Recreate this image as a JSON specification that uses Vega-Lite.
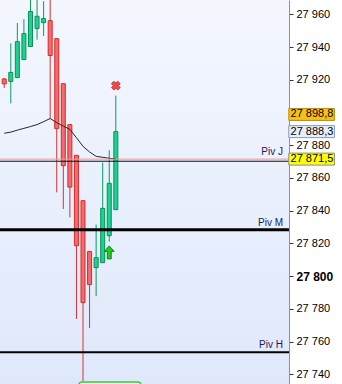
{
  "$schema": "https://vega.github.io/schema/vega-lite/v6.json",
  "width": 289,
  "height": 384,
  "autosize": {"type": "none"},
  "padding": {"left": 0, "top": 0, "right": 53, "bottom": 0},
  "background": "#ffffff",
  "config": {
    "locale": {"number": {"decimal": ",", "thousands": " ", "grouping": [3], "currency": ["", ""]}},
    "view": {
      "stroke": null,
      "fill": {"gradient": "linear", "x1": 0, "y1": 0, "x2": 0, "y2": 1, "stops": [{"offset": 0, "color": "#f4f7fe"}, {"offset": 1, "color": "#dfe8fb"}]}
    },
    "font": "Liberation Sans"
  },
  "datasets": {
    "candles": [
      {"i": 0, "o": 27920.5, "h": 27921.0, "l": 27915.0, "c": 27917.5, "ma": 27887.3},
      {"i": 1, "o": 27919.0, "h": 27942.3, "l": 27905.6, "c": 27924.5, "ma": 27888.0},
      {"i": 2, "o": 27921.3, "h": 27954.7, "l": 27921.3, "c": 27943.3, "ma": 27889.2},
      {"i": 3, "o": 27932.3, "h": 27957.0, "l": 27932.3, "c": 27948.2, "ma": 27890.3},
      {"i": 4, "o": 27940.3, "h": 27980.0, "l": 27940.3, "c": 27961.7, "ma": 27891.4},
      {"i": 5, "o": 27951.3, "h": 27980.0, "l": 27944.5, "c": 27958.8, "ma": 27892.6},
      {"i": 6, "o": 27954.9, "h": 27968.0, "l": 27946.7, "c": 27957.4, "ma": 27894.4},
      {"i": 7, "o": 27956.1, "h": 27980.0, "l": 27896.3, "c": 27934.8, "ma": 27896.3},
      {"i": 8, "o": 27945.1, "h": 27945.1, "l": 27851.2, "c": 27890.1, "ma": 27893.8},
      {"i": 9, "o": 27917.6, "h": 27917.6, "l": 27841.0, "c": 27867.5, "ma": 27891.7},
      {"i": 10, "o": 27892.6, "h": 27892.6, "l": 27835.9, "c": 27854.4, "ma": 27889.7},
      {"i": 11, "o": 27873.8, "h": 27873.8, "l": 27773.8, "c": 27818.6, "ma": 27884.6},
      {"i": 12, "o": 27846.1, "h": 27846.1, "l": 27735.9, "c": 27783.8, "ma": 27879.3},
      {"i": 13, "o": 27815.0, "h": 27815.0, "l": 27768.3, "c": 27794.8, "ma": 27875.9},
      {"i": 14, "o": 27805.2, "h": 27831.5, "l": 27787.8, "c": 27811.3, "ma": 27873.2},
      {"i": 15, "o": 27808.2, "h": 27869.4, "l": 27808.2, "c": 27841.4, "ma": 27872.6},
      {"i": 16, "o": 27824.7, "h": 27876.9, "l": 27821.1, "c": 27856.7, "ma": 27872.0},
      {"i": 17, "o": 27840.6, "h": 27910.3, "l": 27840.6, "c": 27888.3, "ma": 27871.6}
    ],
    "pivots": [
      {"level": "Piv J", "value": 27871.5},
      {"level": "Piv J base", "value": 27870.2},
      {"level": "Piv M", "value": 27828.4},
      {"level": "Piv H", "value": 27753.4}
    ],
    "signals": [
      {"i": 17, "value": 27916.4, "signal": "sell"},
      {"i": 16, "value": 27814.5, "signal": "buy"}
    ],
    "prices": [
      {"kind": "last", "value": 27898.8, "label": "27 898,8"},
      {"kind": "close", "value": 27888.3, "label": "27 888,3"},
      {"kind": "pivot", "value": 27871.5, "label": "27 871,5"}
    ]
  },
  "resolve": {"scale": {"x": "shared", "y": "shared"}},
  "layer": [
    {
      "data": {"name": "candles"},
      "mark": {"type": "rule", "clip": true, "strokeWidth": 1},
      "encoding": {
        "x": {"field": "i", "type": "quantitative", "scale": {"domain": [0.118, 42.618], "nice": false, "zero": false}, "axis": null},
        "y": {
          "field": "l", "type": "quantitative",
          "scale": {"domain": [27734.07, 27968.74], "nice": false, "zero": false},
          "axis": {
            "orient": "right", "title": null, "grid": false,
            "values": [27740, 27760, 27780, 27800, 27820, 27840, 27860, 27880, 27900, 27920, 27940, 27960],
            "tickCount": 30,
            "format": ",d",
            "labelExpr": "datum.value == 27900 ? '' : datum.label",
            "labelFont": "Liberation Sans",
            "labelFontSize": {"condition": {"test": "datum.value == 27800", "value": 12}, "value": 11},
            "labelFontWeight": {"condition": {"test": "datum.value == 27800", "value": "bold"}, "value": "normal"},
            "labelColor": "#000000",
            "labelPadding": 3,
            "labelOverlap": false,
            "labelBound": false,
            "labelFlush": false,
            "domainColor": "#8393aa",
            "domainWidth": 1,
            "tickColor": "#333333",
            "tickSize": 4,
            "tickWidth": 1
          }
        },
        "y2": {"field": "h"},
        "color": {"condition": {"test": "datum.c >= datum.o", "value": "#0c9a5c"}, "value": "#d8302f"}
      }
    },
    {
      "data": {"values": [{}]},
      "mark": {"type": "rect", "clip": true, "fill": "#f3fbf3", "stroke": "#3cc63c", "strokeWidth": 1.5, "cornerRadius": 3},
      "encoding": {
        "x": {"datum": 11.4, "type": "quantitative"},
        "x2": {"datum": 20.81},
        "y": {"datum": 27735.3, "type": "quantitative"},
        "y2": {"datum": 27715}
      }
    },
    {
      "data": {"name": "candles"},
      "mark": {"type": "bar", "clip": true, "width": 4, "strokeWidth": 1},
      "encoding": {
        "x": {"field": "i", "type": "quantitative"},
        "y": {"field": "o", "type": "quantitative"},
        "y2": {"field": "c"},
        "fill": {"condition": {"test": "datum.c >= datum.o", "value": "#1ad392"}, "value": "#f76a6a"},
        "stroke": {"condition": {"test": "datum.c >= datum.o", "value": "#0b8f55"}, "value": "#d42c2c"}
      }
    },
    {
      "data": {"name": "candles"},
      "mark": {"type": "line", "clip": true, "color": "#262626", "strokeWidth": 1},
      "encoding": {
        "x": {"field": "i", "type": "quantitative"},
        "y": {"field": "ma", "type": "quantitative"}
      }
    },
    {
      "data": {"name": "pivots"},
      "transform": [{"filter": "datum.level == 'Piv J'"}],
      "mark": {"type": "rule", "color": "#e69a9a", "strokeWidth": 1},
      "encoding": {"y": {"field": "value", "type": "quantitative"}}
    },
    {
      "data": {"name": "pivots"},
      "transform": [{"filter": "datum.level == 'Piv J base'"}],
      "mark": {"type": "rule", "color": "#111111", "strokeWidth": 1},
      "encoding": {"y": {"field": "value", "type": "quantitative"}}
    },
    {
      "data": {"name": "pivots"},
      "transform": [{"filter": "datum.level == 'Piv M'"}],
      "mark": {"type": "rule", "color": "#000000", "strokeWidth": 3},
      "encoding": {"y": {"field": "value", "type": "quantitative"}}
    },
    {
      "data": {"name": "pivots"},
      "transform": [{"filter": "datum.level == 'Piv H'"}],
      "mark": {"type": "rule", "color": "#000000", "strokeWidth": 2},
      "encoding": {"y": {"field": "value", "type": "quantitative"}}
    },
    {
      "data": {"name": "pivots"},
      "transform": [{"filter": "datum.level != 'Piv J base'"}],
      "mark": {"type": "text", "align": "right", "baseline": "bottom", "dy": -2, "dx": -1, "font": "Liberation Sans", "fontSize": 10, "color": "#1c1c5a"},
      "encoding": {
        "x": {"datum": 42.618, "type": "quantitative"},
        "y": {"field": "value", "type": "quantitative"},
        "text": {"field": "level"}
      }
    },
    {
      "data": {"name": "signals"},
      "transform": [{"filter": "datum.signal == 'sell'"}],
      "mark": {"type": "point", "shape": "cross", "angle": 45, "size": 80, "filled": true, "fill": "#ea4a4a", "stroke": "#c42f2f", "strokeWidth": 0.8, "opacity": 1},
      "encoding": {
        "x": {"field": "i", "type": "quantitative"},
        "y": {"field": "value", "type": "quantitative"}
      }
    },
    {
      "data": {"name": "signals"},
      "transform": [{"filter": "datum.signal == 'buy'"}],
      "mark": {"type": "point", "shape": "M0,-1L0.75,-0.15L0.3,-0.15L0.3,1L-0.3,1L-0.3,-0.15L-0.75,-0.15Z", "size": 169, "filled": true, "fill": "#26c826", "stroke": "#0c880c", "strokeWidth": 1, "opacity": 1},
      "encoding": {
        "x": {"field": "i", "type": "quantitative"},
        "y": {"field": "value", "type": "quantitative"}
      }
    },
    {
      "data": {"name": "prices"},
      "mark": {"type": "rect", "height": 12, "strokeWidth": 1},
      "encoding": {
        "x": {"datum": 43.35, "type": "quantitative"},
        "x2": {"datum": 50.3},
        "y": {"field": "value", "type": "quantitative"},
        "fill": {"field": "kind", "type": "nominal", "scale": {"domain": ["last", "close", "pivot"], "range": ["#f8c012", "#e8eef9", "#ffff00"]}, "legend": null},
        "stroke": {"field": "kind", "type": "nominal", "scale": {"domain": ["last", "close", "pivot"], "range": ["#c48a00", "#8a9ab3", "#8c8c8c"]}, "legend": null}
      }
    },
    {
      "data": {"name": "prices"},
      "mark": {"type": "text", "align": "left", "baseline": "middle", "font": "Liberation Sans", "fontSize": 11, "color": "#000000"},
      "encoding": {
        "x": {"datum": 43.62, "type": "quantitative"},
        "y": {"field": "value", "type": "quantitative"},
        "text": {"field": "label"}
      }
    }
  ]
}
